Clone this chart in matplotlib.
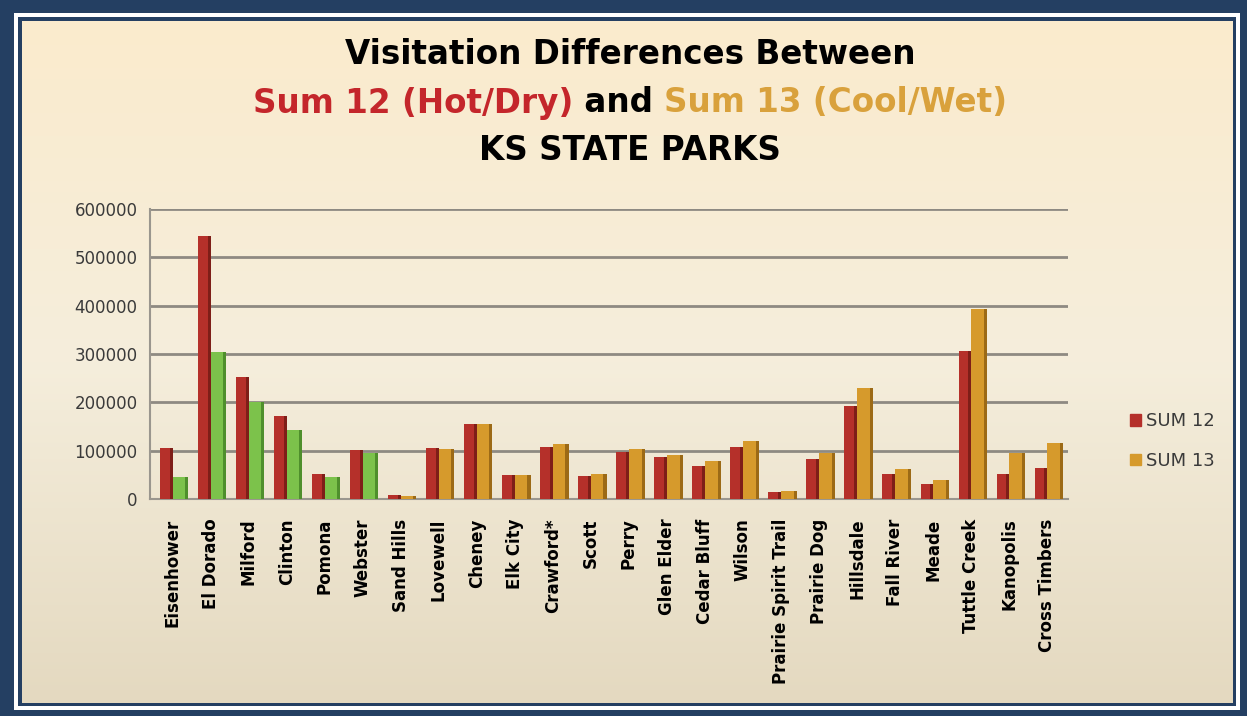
import matplotlib
matplotlib.use("Agg")
import matplotlib.pyplot as plt
import matplotlib.patches as mpatches
from matplotlib.colors import LinearSegmentedColormap
import numpy as np

# ---------------- data ----------------
parks = ["Eisenhower", "El Dorado", "Milford", "Clinton", "Pomona", "Webster",
         "Sand Hills", "Lovewell", "Cheney", "Elk City", "Crawford*", "Scott",
         "Perry", "Glen Elder", "Cedar Bluff", "Wilson", "Prairie Spirit Trail",
         "Prairie Dog", "Hillsdale", "Fall River", "Meade", "Tuttle Creek",
         "Kanopolis", "Cross Timbers"]
sum12 = [105000, 545000, 252000, 172000, 52000, 102000,
         8000, 106000, 156000, 50000, 108000, 48000,
         98000, 86000, 68000, 107000, 14000,
         82000, 192000, 52000, 31000, 306000,
         52000, 64000]
sum13 = [45000, 305000, 200000, 143000, 46000, 96000,
         7000, 104000, 156000, 50000, 113000, 51000,
         103000, 91000, 79000, 121000, 17000,
         96000, 230000, 63000, 40000, 393000,
         96000, 116000]
# the first six parks are drawn with green second bars in the original
green_parks = ["Eisenhower", "El Dorado", "Milford", "Clinton", "Pomona", "Webster"]
yticks = [0, 100000, 200000, 300000, 400000, 500000, 600000]
legend_labels = ["SUM 12", "SUM 13"]

RED = "#B5302A"
RED_SIDE = "#7E1E18"
ORANGE = "#D69A2C"
ORANGE_SIDE = "#9C6A16"
GREEN = "#7CC24B"
GREEN_SIDE = "#4F8F2C"
NAVY = "#243F62"

W, H = 1247, 716
fig = plt.figure(figsize=(W / 100, H / 100), dpi=100)
fig.patch.set_facecolor(NAVY)

def frect(x0, y0, x1, y1, **kw):
    fig.patches.append(mpatches.Rectangle((x0 / W, 1 - y1 / H), (x1 - x0) / W, (y1 - y0) / H,
                                          transform=fig.transFigure, figure=fig, **kw))

frect(14, 13, 1240, 710, facecolor="white", edgecolor="none", zorder=0)
frect(18, 17, 1236, 706, facecolor=NAVY, edgecolor="none", zorder=0.1)
# beige gradient panel
grad_ax = fig.add_axes([22 / W, 1 - 703 / H, (1233 - 22) / W, (703 - 21) / H], zorder=0.2)
grad = np.linspace(0, 1, 256).reshape(-1, 1)
cmap = LinearSegmentedColormap.from_list("bg", ["#FBEBCD", "#F5EEDC", "#E4D9C0"])
grad_ax.imshow(grad, aspect="auto", cmap=cmap, extent=[0, 1, 0, 1], origin="upper")
grad_ax.set_axis_off()

# ---------------- main axes ----------------
ax = fig.add_axes([150 / W, 1 - 499 / H, (1068 - 150) / W, (499 - 209) / H], zorder=1)
ax.set_facecolor("none")
x = np.arange(len(parks))
bw = 0.33
side = 0.08
c2 = [GREEN if p in green_parks else ORANGE for p in parks]
c2s = [GREEN_SIDE if p in green_parks else ORANGE_SIDE for p in parks]

ax.bar(x - bw / 2, sum12, width=bw, color=RED, zorder=3, label=legend_labels[0])
ax.bar(x - side / 2, sum12, width=side, color=RED_SIDE, zorder=3.1)
ax.bar(x + bw / 2, sum13, width=bw, color=c2, zorder=3, label=legend_labels[1])
ax.bar(x + bw + side / 2, sum13, width=side, color=c2s, zorder=3.1)

ax.set_ylim(0, 600000)
ax.set_xlim(-0.6, len(parks) - 0.45)
ax.set_yticks(yticks)
ax.set_yticklabels([str(v) for v in yticks], fontsize=12, color="#3A3A3A")
ax.yaxis.grid(True, color="#8E8A82", linewidth=2.0, zorder=0)
ax.set_axisbelow(True)
for s in ["top", "right"]:
    ax.spines[s].set_visible(False)
ax.spines["left"].set_color("#9A968E")
ax.spines["left"].set_linewidth(1.5)
ax.spines["bottom"].set_color("#9A968E")
ax.spines["bottom"].set_linewidth(1.5)
ax.tick_params(axis="y", length=0, pad=9)
ax.tick_params(axis="x", length=0, pad=14)
ax.set_xticks(x)
ax.set_xticklabels(parks, rotation=90, fontsize=12, fontweight="bold", color="black")

# legend
h1 = mpatches.Patch(color=RED)
h2 = mpatches.Patch(color=ORANGE)
fig.legend([h1, h2], legend_labels, loc="center left", bbox_to_anchor=(1114 / W, 1 - 441 / H),
           frameon=False, fontsize=13, labelcolor="#3A3A3A", handlelength=0.6, handleheight=0.6,
           handletextpad=0.25, labelspacing=1.2)

# ---------------- titles ----------------
tfont = dict(fontsize=23.5, fontweight="bold", family="DejaVu Sans")
cx = 630 / W
fig.text(cx, 1 - 55 / H, "Visitation Differences Between", ha="center", va="center", color="black", **tfont)
fig.text(cx, 1 - 150 / H, "KS STATE PARKS", ha="center", va="center", color="black", **tfont)

pieces = [("Sum 12 (Hot/Dry)", "#C4262B"), (" and ", "black"), ("Sum 13 (Cool/Wet)", "#D9A13C")]
fig.canvas.draw()
r = fig.canvas.get_renderer()
texts = []
widths = []
for s, c in pieces:
    t = fig.text(0, 1 - 103 / H, s, ha="left", va="center", color=c, **tfont)
    bb = t.get_window_extent(renderer=r)
    texts.append(t)
    widths.append(bb.width / W)
start = cx - sum(widths) / 2
for t, w in zip(texts, widths):
    t.set_x(start)
    start += w

fig.savefig("out.png", dpi=100, facecolor=fig.get_facecolor())
